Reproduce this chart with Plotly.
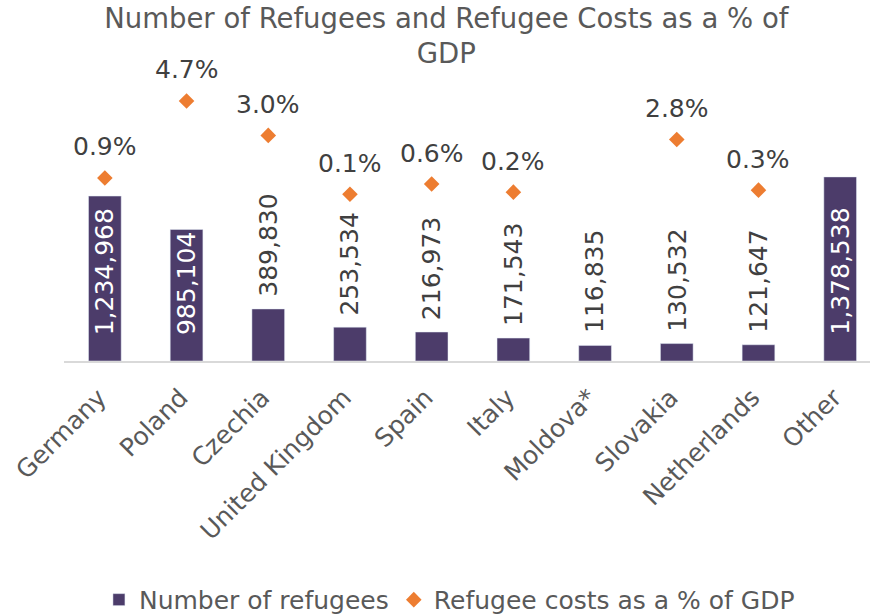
import plotly.graph_objects as go

countries = ["Germany", "Poland", "Czechia", "United Kingdom", "Spain", "Italy",
             "Moldova*", "Slovakia", "Netherlands", "Other"]
refugees = [1234968, 985104, 389830, 253534, 216973, 171543, 116835, 130532, 121647, 1378538]
cost_pct = [0.9, 4.7, 3.0, 0.1, 0.6, 0.2, None, 2.8, 0.3, None]

BAR = "#4C3C6A"
ORANGE = "#ED7D31"
GRAY = "#595959"
DARK = "#404040"
FONT = "DejaVu Sans, Verdana, sans-serif"

fig = go.Figure()
fig.add_trace(go.Bar(x=countries, y=refugees, name="Number of refugees",
                     marker=dict(color=BAR), width=0.4, yaxis="y"))
fig.add_trace(go.Scatter(x=countries, y=cost_pct, name="Refugee costs as a % of GDP",
                         mode="markers", yaxis="y2",
                         marker=dict(symbol="diamond", size=12, color=ORANGE)))

annotations = []
for c, v in zip(countries, refugees):
    inside = v > 500000
    annotations.append(dict(
        x=c, y=0 if inside else v, xref="x", yref="y",
        text=f"{v:,}", showarrow=False, textangle=-90,
        yanchor="bottom", xanchor="center",
        yshift=24 if inside else 10,
        font=dict(size=25, color="white" if inside else DARK, family=FONT)))
for c, p in zip(countries, cost_pct):
    if p is None:
        continue
    annotations.append(dict(
        x=c, y=p, xref="x", yref="y2", text=f"{p:.1f}%", showarrow=False,
        yanchor="middle", xanchor="center", yshift=31,
        font=dict(size=25, color=DARK, family=FONT)))

fig.update_layout(
    width=870, height=614,
    margin=dict(l=64, r=0, t=90, b=253),
    paper_bgcolor="white", plot_bgcolor="white",
    font=dict(family=FONT, size=25, color=GRAY),
    title=dict(text="Number of Refugees and Refugee Costs as a % of<br>GDP",
               x=0.513, xref="container", xanchor="center",
               y=0.955, yref="container", yanchor="top",
               font=dict(size=27.5, color=GRAY, family=FONT)),
    xaxis=dict(type="category", range=[-0.5, 9.365], showline=True,
               linecolor="#D9D9D9", linewidth=2, ticks="", tickangle=-45,
               showgrid=False, tickfont=dict(size=25, color=GRAY),
               ticklabelstandoff=10, ticklabelshift=-6),
    yaxis=dict(range=[0, 2029200], visible=False, showgrid=False),
    yaxis2=dict(range=[-8.13, 5.24], overlaying="y", side="right",
                visible=False, showgrid=False),
    showlegend=True,
    legend=dict(orientation="h", x=0.5166, xref="container", xanchor="center",
                y=0.023, yref="container", yanchor="middle",
                font=dict(size=25, color=GRAY), itemwidth=30,
                tracegroupgap=0),
    annotations=annotations,
    bargap=0.6,
)

fig.write_html("out.html", config={"displayModeBar": False},
               post_script="document.body.style.margin='0';")
